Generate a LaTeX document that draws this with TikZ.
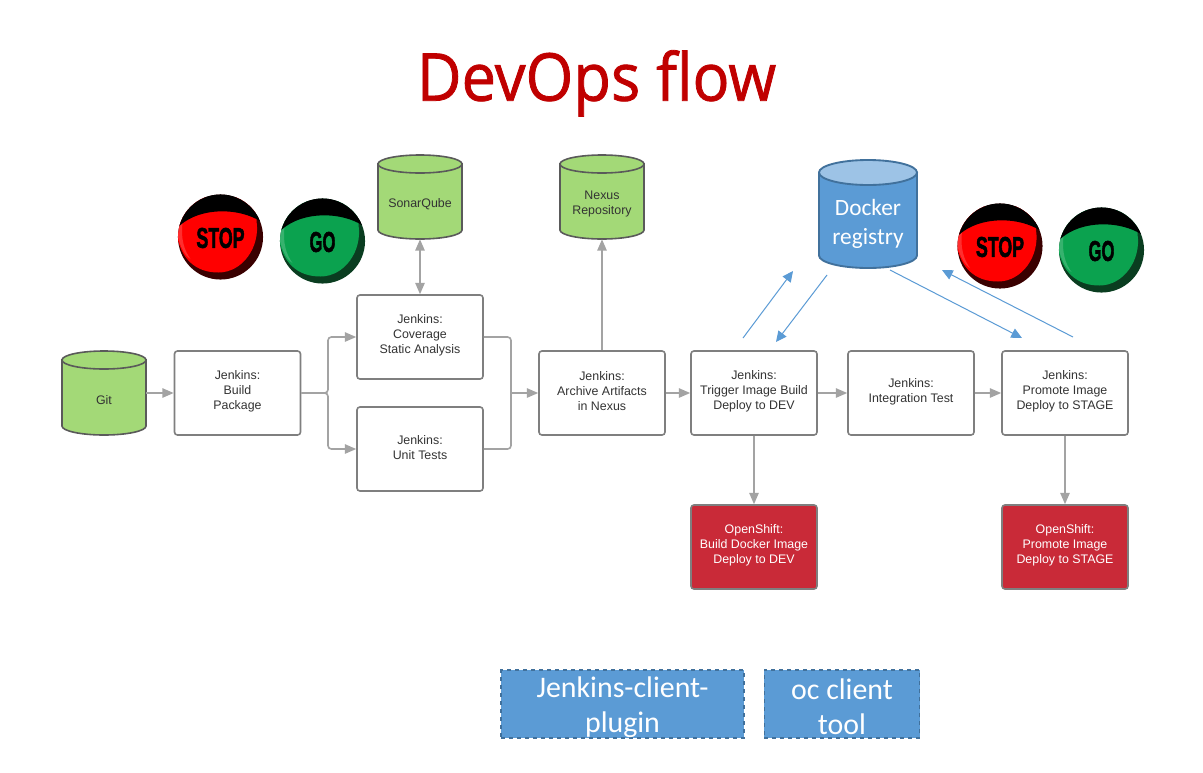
\documentclass[tikz,border=0pt]{standalone}
\usepackage{fontspec}
\setmainfont{Liberation Sans}
\newfontfamily\carlito{Carlito}
\newfontfamily\titlefont[Ligatures=NoCommon,FakeBold=1.2]{Open Sans}
\newfontfamily\btnfont[BoldFeatures={FakeBold=2.2}]{Liberation Sans}
\usetikzlibrary{arrows.meta}
\definecolor{boxline}{HTML}{7F7F7F}
\definecolor{flowline}{HTML}{A3A3A3}
\definecolor{cylgreen}{HTML}{A3D977}
\definecolor{cylline}{HTML}{5A5A5A}
\definecolor{oblue}{HTML}{5B9BD5}
\definecolor{oblueline}{HTML}{41719C}
\definecolor{oblue light}{HTML}{9DC3E6}
\definecolor{redbox}{HTML}{C92A38}
\definecolor{titlered}{HTML}{C00000}
\definecolor{txt}{HTML}{333333}
\definecolor{stopred}{HTML}{FF0000}
\definecolor{stopdark}{HTML}{3A0000}
\definecolor{gogreen}{HTML}{0BA24F}
\definecolor{godark}{HTML}{0A3D20}
\tikzset{
  steptext/.style={inner sep=0pt,align=center,text=txt,yshift=1.2pt,font=\fontsize{9.3pt}{11.2pt}\selectfont},
  stepbox/.style={draw=boxline,line width=1.2pt,rounded corners=2.2pt,fill=white,minimum width=94.5pt,minimum height=63pt,inner sep=0pt},
  redstep/.style={stepbox,fill=redbox},
  redtext/.style={steptext,text=white},
  cylframe/.style={inner sep=0pt,minimum width=63pt,minimum height=63pt},
  cyltext/.style={steptext,yshift=-6.6pt},
  dockerframe/.style={inner sep=0pt,minimum width=73.5pt,minimum height=81pt},
  dockertext/.style={inner sep=0pt,align=center,text=white,yshift=-7.1pt,font=\carlito\fontsize{17.5pt}{21.75pt}\selectfont},
  greenbody/.style={draw=cylline,line width=1.2pt,fill=cylgreen},
  greenend/.style={draw=cylline,line width=1.2pt,fill=cylgreen},
  bluebody/.style={draw=oblueline,line width=1.4pt,fill=oblue},
  blueend/.style={draw=oblueline,line width=1.4pt,fill=oblue light},
  toolbox/.style={draw=oblueline,dashed,line width=1.1pt,fill=oblue,inner sep=0pt},
  tooltext/.style={inner sep=0pt,align=center,text=white,yshift=-2.2pt,font=\carlito\fontsize{22.4pt}{26.2pt}\selectfont},
  flow/.style={draw=flowline,line width=1.2pt,-{Triangle[length=8.5pt,width=7pt]},rounded corners=2.5pt},
  flowboth/.style={flow,{Triangle[length=8.5pt,width=7pt]}-{Triangle[length=8.5pt,width=7pt]}},
  plainflow/.style={draw=flowline,line width=1.2pt,rounded corners=2.5pt},
  blueflow/.style={draw=oblue,line width=.75pt,-{Triangle[length=8pt,width=7.5pt]}},
  btntext/.style={inner sep=0pt,text=black,font=\btnfont\bfseries\fontsize{21.5pt}{21.5pt}\selectfont},
}
% x, y, half width, half height, rim radius, body style, end style (pixels)
\newcommand{\cylshape}[7]{%
  \begin{scope}[shift={(#1,#2)}]
    \path[#6] (-#3,#5-#4) -- (-#3,#4-#5) arc[start angle=180,end angle=360,x radius=#3*.75pt,y radius=#5*.75pt] -- (#3,#5-#4) -- cycle;
    \path[#7] (0,#5-#4) ellipse[x radius=#3*.75pt,y radius=#5*.75pt];
  \end{scope}}
\begin{document}
\begin{tikzpicture}[x=.75pt,y=-.75pt]
\useasboundingbox[fill=white] (0,0) rectangle (1203,772);
\node[anchor=base,text=titlered,font=\titlefont\fontsize{49.5pt}{49.5pt}\selectfont,inner sep=0pt] (title) at (596.5,100.7) {\scalebox{.93}[1]{DevOps flow}};

\cylshape{104}{393}{42}{42}{9}{greenbody}{greenend}
\cylshape{420}{197}{42}{42}{9}{greenbody}{greenend}
\cylshape{602}{197}{42}{42}{9}{greenbody}{greenend}
\cylshape{868}{214}{49}{54}{12.5}{bluebody}{blueend}
\node[cylframe,label={[cyltext]center:{Git}}] (git) at (104,393) {};
\node[cylframe,label={[cyltext]center:{SonarQube}}] (sonar) at (420,197) {};
\node[cylframe,label={[cyltext]center:{Nexus\\Repository}}] (nexus) at (602,197) {};
\node[dockerframe,label={[dockertext]center:{Docker\\registry}}] (docker) at (868,214) {};

\node[stepbox,label={[steptext]center:{Jenkins:\\Build\\Package}}] (build) at (237.5,393) {};
\node[stepbox,label={[steptext]center:{Jenkins:\\Coverage\\Static Analysis}}] (cov) at (420,337) {};
\node[stepbox,label={[steptext]center:{Jenkins:\\Unit Tests}}] (unit) at (420,449) {};
\node[stepbox,label={[steptext]center:{Jenkins:\\Archive Artifacts\\in Nexus}}] (arch) at (602,393) {};
\node[stepbox,label={[steptext]center:{Jenkins:\\Trigger Image Build\\Deploy to DEV}}] (trig) at (754,393) {};
\node[stepbox,label={[steptext]center:{Jenkins:\\Integration Test}}] (integ) at (911,393) {};
\node[stepbox,label={[steptext]center:{Jenkins:\\Promote Image\\Deploy to STAGE}}] (prom) at (1065,393) {};
\node[redstep,label={[redtext]center:{OpenShift:\\Build Docker Image\\Deploy to DEV}}] (osdev) at (754,547) {};
\node[redstep,label={[redtext]center:{OpenShift:\\Promote Image\\Deploy to STAGE}}] (osstage) at (1065,547) {};

\node[toolbox,minimum width=182pt,minimum height=51pt,label={[tooltext]center:{Jenkins-client-\\plugin}}] (jcp) at (622.5,704) {};
\node[toolbox,minimum width=116.5pt,minimum height=51pt,label={[tooltext]center:{oc client\\tool}}] (oc) at (842,704) {};

\coordinate (split) at (328,393);
\coordinate (merge) at (511,393);
\draw[flow] (git.east) -- (build.west);
\draw[flow] (build.east) -- (split) |- (cov.west);
\draw[flow] (build.east) -- (split) |- (unit.west);
\draw[plainflow] (cov.east) -| (merge);
\draw[plainflow] (unit.east) -| (merge);
\draw[flow] (merge) -- (arch.west);
\draw[flowboth] (sonar.south) -- (cov.north);
\draw[flow] (arch.north) -- (nexus.south);
\draw[flow] (arch.east) -- (trig.west);
\draw[flow] (trig.east) -- (integ.west);
\draw[flow] (integ.east) -- (prom.west);
\draw[flow] (trig.south) -- (osdev.north);
\draw[flow] (prom.south) -- (osstage.north);

\coordinate (a1) at (743,338); \coordinate (a2) at (793,271);
\coordinate (b1) at (827,275); \coordinate (b2) at (776,342);
\coordinate (c1) at (890,270); \coordinate (c2) at (1022,338);
\coordinate (d1) at (1073,337); \coordinate (d2) at (942,270);
\draw[blueflow] (a1) -- (a2);
\draw[blueflow] (b1) -- (b2);
\draw[blueflow] (c1) -- (c2);
\draw[blueflow] (d1) -- (d2);

\foreach \n/\x/\y/\m/\d/\t/\s in {stopa/220.5/237/stopred/stopdark/STOP/.62,goa/322.5/241/gogreen/godark/GO/.58,stopb/1000/246/stopred/stopdark/STOP/.62,gob/1101.5/250/gogreen/godark/GO/.58}{
  \begin{scope}[shift={(\x,\y)}]
    \begin{scope}
      \clip (0,0) circle[radius=31.9pt];
      \fill[\d] (-50,-50) rectangle (50,50);
      \fill[\m] (-44,-40) -- (36,-40) -- (36,-16) .. controls (40,10) and (22,35.5) .. (-2,35.5) .. controls (-25,35.5) and (-40,22) .. (-44,-4) -- cycle;
      \fill[white,opacity=.18] (-44,-8) -- (-38,-14) .. controls (-40,2) and (-36,14) .. (-30,22) .. controls (-37,18) and (-42,6) .. (-44,-8) -- cycle;
      \fill[black] (-45,-7) .. controls (-25,-31) and (22,-31) .. (45,-12) -- (45,-50) -- (-45,-50) -- cycle;
    \end{scope}
    \node[btntext] (\n) at (0,1) {\scalebox{\s}[1]{\t}};
  \end{scope}
}
\end{tikzpicture}
\end{document}
